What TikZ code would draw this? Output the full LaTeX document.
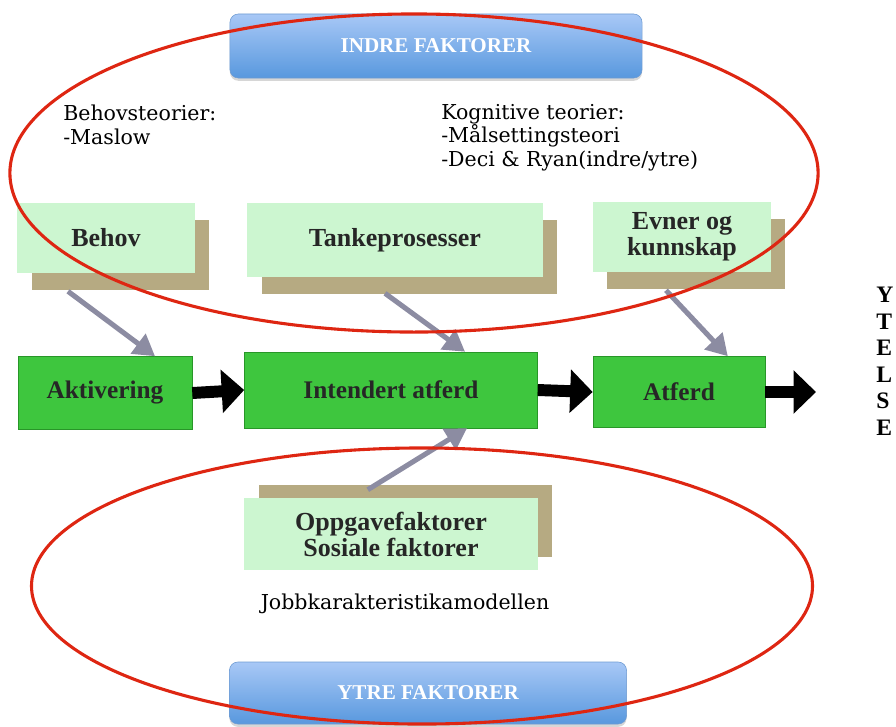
\documentclass[tikz,border=0pt]{standalone}
\usepackage{fontspec}
\setmainfont{Liberation Serif}
\newfontfamily\theoryfont{DejaVu Serif}
\usetikzlibrary{arrows.meta,shadows}
\definecolor{lightgreen}{RGB}{204,246,208}
\definecolor{tanshadow}{RGB}{182,170,130}
\definecolor{darkgreen}{RGB}{62,198,62}
\definecolor{greenline}{RGB}{40,150,40}
\definecolor{bluetop}{RGB}{168,200,246}
\definecolor{bluebot}{RGB}{88,152,222}
\definecolor{blueline}{RGB}{110,155,210}
\definecolor{ringred}{RGB}{222,38,18}
\definecolor{greyarrow}{RGB}{140,140,162}
\begin{document}
\begin{tikzpicture}[x=0.025cm, y=-0.025cm,
  bluebox/.style={rounded corners=6pt, top color=bluetop, bottom color=bluebot, draw=blueline,
    font=\bfseries\fontsize{15}{16}\selectfont, text=white,
    drop shadow={shadow xshift=0pt, shadow yshift=-2pt, fill=black!40, opacity=.4}},
  lightbox/.style={fill=lightgreen, align=center, text=black!85,
    font=\bfseries\fontsize{18.5}{18.5}\selectfont,
    drop shadow={shadow xshift=.36cm, shadow yshift=#1, fill=tanshadow, opacity=1}},
  lightbox/.default=-.42cm,
  stepbox/.style={fill=darkgreen, draw=greenline, text=black!85,
    font=\bfseries\fontsize{18}{18.5}\selectfont},
  theory/.style={anchor=base west, align=left, inner sep=0pt,
    font=\theoryfont\fontsize{14.6}{16.4}\selectfont},
  ytelse/.style={anchor=base west, align=left, inner sep=0pt,
    font=\bfseries\fontsize{16.8}{18.8}\selectfont},
  blk/.style={line width=8.5pt, -{Triangle[width=30pt,length=16pt]}},
  gry/.style={line width=3.6pt, draw=greyarrow, -{Triangle[width=17pt,length=15pt]}},
  ring/.style={draw=ringred, line width=2.2pt}]
\useasboundingbox (0,0) rectangle (896,726);

\node[bluebox, minimum width=10.3cm, minimum height=1.6cm] (indre) at (436,46) {INDRE FAKTORER};
\node[bluebox, minimum width=9.925cm, minimum height=1.55cm] (ytre) at (428,693) {YTRE FAKTORER};

% last baseline of each block
\node[theory] (behovteori) at (63,144) {Behovsteorier:\\-Maslow};
\node[theory] (kognteori) at (441,166) {Kognitive teorier:\\-Målsettingsteori\\-Deci \& Ryan(indre/ytre)};

\node[lightbox, minimum width=4.425cm, minimum height=1.75cm] (behov) at (106,238) {Behov};
\node[lightbox, minimum width=7.375cm, minimum height=1.85cm] (tanke) at (395,240) {Tankeprosesser};
\node[lightbox, minimum width=4.45cm, minimum height=1.75cm] (evner) at (682,237) {Evner og\\kunnskap};
\node[lightbox=.33cm, minimum width=7.325cm, minimum height=1.8cm] (oppgave) at (391,534) {Oppgavefaktorer\\Sosiale faktorer};

\node[stepbox, minimum width=4.35cm, minimum height=1.825cm] (akt) at (105,393) {Aktivering};
\node[stepbox, minimum width=7.325cm, minimum height=1.9cm] (intend) at (391,390) {Intendert atferd};
\node[stepbox, minimum width=4.3cm, minimum height=1.775cm] (atferd) at (679,392) {Atferd};
\coordinate (ut) at (816,392);

\node[theory, anchor=base] (jobb) at (405,609) {Jobbkarakteristikamodellen};

\node[ytelse] (ytelse) at (876,435) {Y\\T\\E\\L\\S\\E};

\draw[blk] (akt.east) -- (intend.west);
\draw[blk] (intend.east) -- (atferd.west);
\draw[blk] (atferd.east) -- (ut);

\draw[gry] ([xshift=-.95cm,yshift=-.45cm]behov.south) -- ([xshift=1.25cm]akt.north);
\draw[gry] ([xshift=-.25cm,yshift=-.4cm]tanke.south) -- ([xshift=1.85cm]intend.north);
\draw[gry] ([xshift=-.4cm,yshift=-.45cm]evner.south) -- ([xshift=1.22cm]atferd.north);
\draw[gry] ([xshift=-.58cm,yshift=.2cm]oppgave.north) -- ([xshift=1.9cm]intend.south);

\draw[ring] (414,173) ellipse [x radius=10.1cm, y radius=3.975cm];
\draw[ring] (422,586) ellipse [x radius=9.76cm, y radius=3.45cm];

\end{tikzpicture}
\end{document}
